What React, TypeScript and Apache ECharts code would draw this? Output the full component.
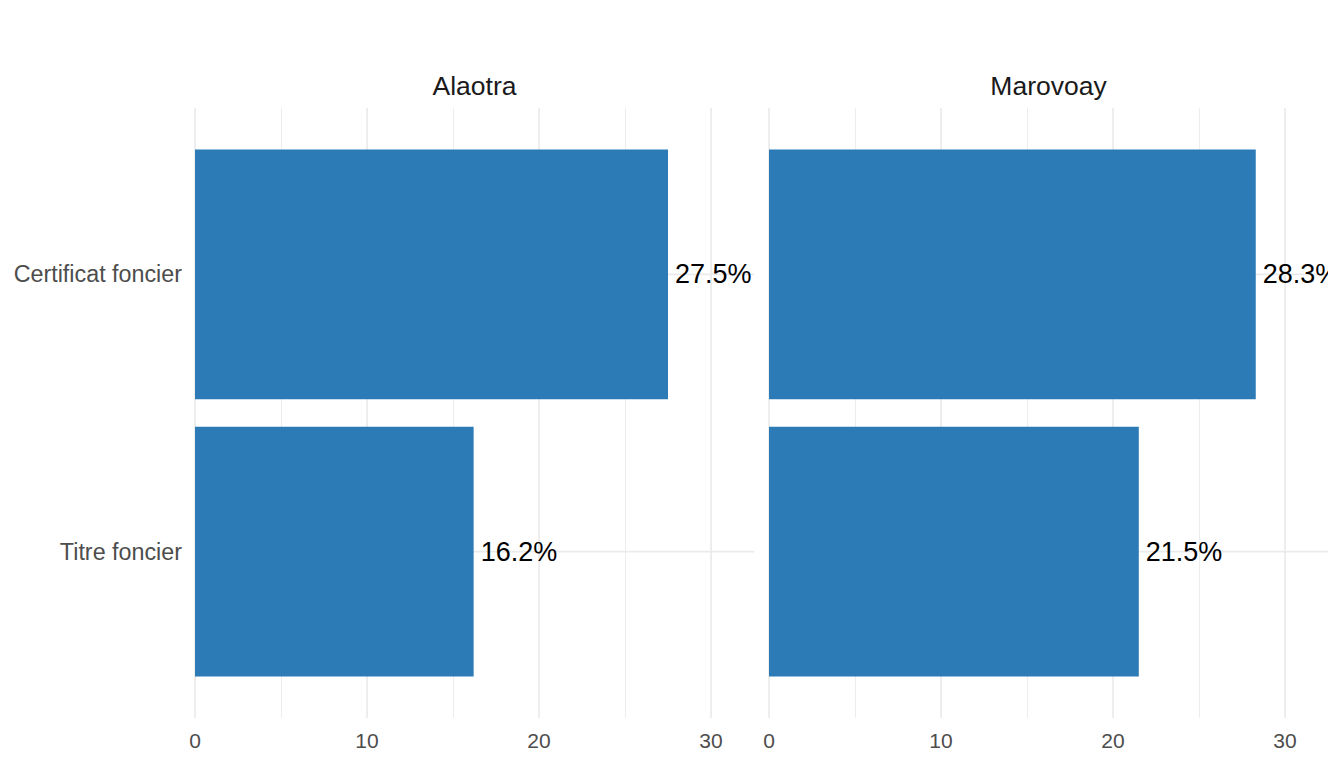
import React, { useEffect, useRef } from "react";
import * as echarts from "echarts";

const panels = ["Alaotra", "Marovoay"];
const categories = ["Certificat foncier", "Titre foncier"];
const alaotraValues = [27.5, 16.2];
const marovoayValues = [28.3, 21.5];
const xTicks = [0, 10, 20, 30];

const FONT = "'Liberation Sans', Arial, sans-serif";
const BAR = "#2C7BB6";
const GRID = "#EBEBEB";

export default function App() {
  const ref = useRef<HTMLDivElement>(null);
  useEffect(() => {
    if (!ref.current) return;
    const chart = echarts.init(ref.current, null, { renderer: "svg" });
    const panelValues = [alaotraValues, marovoayValues];
    const grids = [
      { left: 195, right: 590, top: 108, bottom: 50 },
      { left: 769, right: 16, top: 108, bottom: 50 },
    ];
    const xAxes: any[] = [];
    const yAxes: any[] = [];
    const series: any[] = [];
    panelValues.forEach((vals, p) => {
      xAxes.push({
        type: "value",
        gridIndex: p,
        min: 0,
        max: 32.5,
        interval: 10,
        axisLine: { show: false },
        axisTick: { show: false },
        axisLabel: {
          color: "#4D4D4D",
          fontSize: 21,
          fontFamily: FONT,
          margin: 12,
          showMaxLabel: false,
          formatter: (v: number) => (xTicks.includes(v) ? String(v) : ""),
        },
        splitLine: { show: true, showMaxLine: false, lineStyle: { color: GRID, width: 1.6 } },
      });
      xAxes.push({
        type: "value",
        gridIndex: p,
        min: 0,
        max: 32.5,
        interval: 5,
        show: true,
        position: "top",
        axisLine: { show: false },
        axisTick: { show: false },
        axisLabel: { show: false },
        splitLine: { show: true, showMaxLine: false, lineStyle: { color: GRID, width: 0.9 } },
      });
      yAxes.push({
        type: "value",
        gridIndex: p,
        min: 0.4,
        max: 2.6,
        inverse: true,
        show: false,
        splitLine: { show: false },
      });
      const data = vals.map((v, i) => [v, i + 1, v.toFixed(1) + "%"]);
      series.push({
        type: "custom",
        xAxisIndex: p * 2,
        yAxisIndex: p,
        clip: true,
        encode: { x: 0, y: 1 },
        data,
        renderItem: (params: any, api: any) => {
          const v = api.value(0);
          const c = api.value(1);
          const cs = params.coordSys;
          const a = api.coord([0, c - 0.45]);
          const b = api.coord([v, c + 0.45]);
          const mid = api.coord([v, c]);
          const label = data[params.dataIndex][2] as string;
          return {
            type: "group",
            children: [
              {
                type: "line",
                shape: { x1: cs.x, y1: mid[1], x2: cs.x + cs.width, y2: mid[1] },
                style: { stroke: GRID, lineWidth: 1.6 },
              },
              {
                type: "rect",
                shape: {
                  x: a[0],
                  y: Math.min(a[1], b[1]),
                  width: b[0] - a[0],
                  height: Math.abs(b[1] - a[1]),
                },
                style: { fill: BAR },
              },
              {
                type: "text",
                x: mid[0] + 7,
                y: mid[1],
                style: {
                  text: label,
                  fill: "#000000",
                  fontSize: 27,
                  fontFamily: FONT,
                  align: "left",
                  verticalAlign: "middle",
                },
              },
            ],
          };
        },
      });
    });
    // category labels on left panel
    const catData = categories.map((c, i) => [0, i + 1, c]);
    series.push({
      type: "custom",
      xAxisIndex: 0,
      yAxisIndex: 0,
      clip: false,
      encode: { x: 0, y: 1 },
      data: catData,
      renderItem: (params: any, api: any) => {
        const pt = api.coord([api.value(0), api.value(1)]);
        return {
          type: "text",
          x: pt[0] - 13,
          y: pt[1],
          style: {
            text: catData[params.dataIndex][2] as string,
            fill: "#4D4D4D",
            fontSize: 23.3,
            fontFamily: FONT,
            align: "right",
            verticalAlign: "middle",
          },
        };
      },
    });
    chart.setOption({
      animation: false,
      backgroundColor: "#FFFFFF",
      grid: grids,
      xAxis: xAxes,
      yAxis: yAxes,
      series,
      graphic: panels.map((name, p) => ({
        type: "text",
        x: p === 0 ? 474.5 : 1048.5,
        y: 86,
        style: {
          text: name,
          fill: "#1A1A1A",
          fontSize: 26.5,
          fontFamily: FONT,
          align: "center",
          verticalAlign: "middle",
        },
      })),
    });
    return () => chart.dispose();
  }, []);
  return (
    <div
      ref={ref}
      style={{ position: "fixed", left: 0, top: 0, width: 1344, height: 768 }}
    />
  );
}
